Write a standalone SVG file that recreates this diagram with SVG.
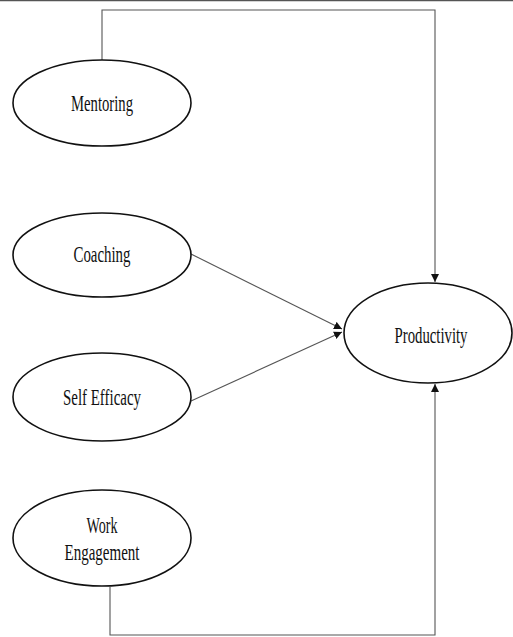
<svg xmlns="http://www.w3.org/2000/svg" width="513" height="637" viewBox="0 0 513 637">
<style>
.node ellipse{fill:#fff;stroke:#111;stroke-width:1.6}
.node text{font-family:"Liberation Serif","Times New Roman",serif;font-size:23px;fill:#111;text-anchor:middle}
.conn{fill:none;stroke:#555;stroke-width:1.1}
</style>
<defs>
<marker id="arr" viewBox="0 0 10 10" refX="10" refY="5" markerWidth="8" markerHeight="8" markerUnits="userSpaceOnUse" orient="auto">
<path d="M0,0 L10,5 L0,10 z" fill="#111"/>
</marker>
</defs>
<rect width="513" height="637" fill="#fff"/>
<line x1="0" y1="0.5" x2="513" y2="0.5" stroke="#555" stroke-width="1.5"/>
<g id="connectors">
<polyline class="conn" points="102,60 102,10 435,10 435,282" marker-end="url(#arr)"/>
<line class="conn" x1="191" y1="254" x2="342" y2="329" marker-end="url(#arr)"/>
<line class="conn" x1="191" y1="401" x2="342" y2="332" marker-end="url(#arr)"/>
<polyline class="conn" points="110,587 110,635 435,635 435,384" marker-end="url(#arr)"/>
</g>
<g id="mentoring" class="node">
<ellipse cx="102" cy="103" rx="89" ry="43"/>
<text x="102" y="111" textLength="62" lengthAdjust="spacingAndGlyphs">Mentoring</text>
</g>
<g id="coaching" class="node">
<ellipse cx="102" cy="255" rx="89" ry="42"/>
<text x="102" y="262" textLength="57" lengthAdjust="spacingAndGlyphs">Coaching</text>
</g>
<g id="self-efficacy" class="node">
<ellipse cx="102" cy="397" rx="89" ry="44"/>
<text x="102" y="405" textLength="78" lengthAdjust="spacingAndGlyphs">Self Efficacy</text>
</g>
<g id="work-engagement" class="node">
<ellipse cx="102" cy="538" rx="89" ry="48"/>
<text x="102" y="533" textLength="31" lengthAdjust="spacingAndGlyphs">Work</text>
<text x="102" y="560" textLength="75" lengthAdjust="spacingAndGlyphs">Engagement</text>
</g>
<g id="productivity" class="node">
<ellipse cx="428" cy="333" rx="84" ry="50"/>
<text x="431" y="343" textLength="73" lengthAdjust="spacingAndGlyphs">Productivity</text>
</g>
</svg>
